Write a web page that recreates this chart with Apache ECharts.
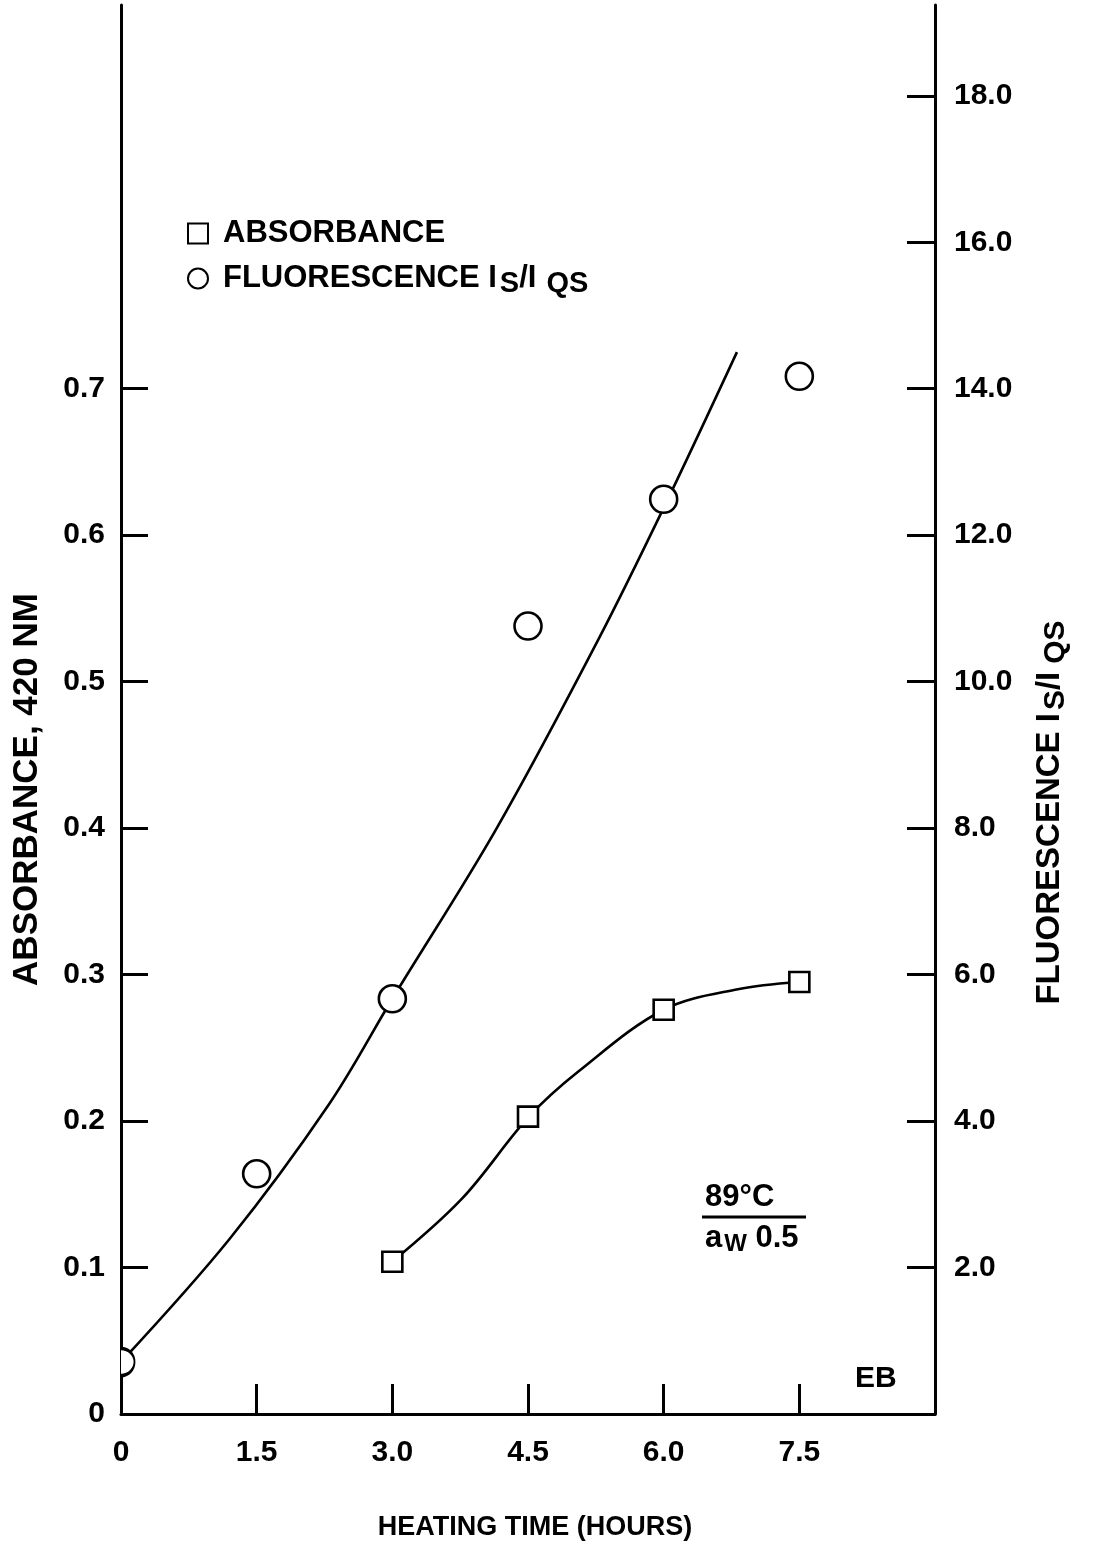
<!DOCTYPE html>
<html>
<head>
<meta charset="utf-8">
<script src="https://cdn.jsdelivr.net/npm/echarts@6/dist/echarts.min.js"></script>
<style>
  html, body { margin: 0; padding: 0; background: #ffffff; }
  #chart { width: 1093px; height: 1566px; }
</style>
</head>
<body>
<div id="chart"></div>
<script>
// Measured points: heating time (h) vs. absorbance at 420 nm and fluorescence Is/Iqs
const hours = [0, 1.5, 3.0, 4.5, 6.0, 7.5];
const fluorescence = [0.71, 3.28, 5.67, 10.76, 12.49, 14.17];
const absorbanceHours = [3.0, 4.5, 6.0, 7.5];
const absorbance = [0.104, 0.203, 0.276, 0.295];

// Hand-fitted trend curves
const fluoCurveHours  = [0, 1.20, 2.30, 3.00, 4.15, 5.28, 6.03, 6.81];
const fluoCurveValues = [0.71, 2.39, 4.23, 5.67, 7.99, 10.58, 12.45, 14.50];
const absCurveHours  = [3.0, 3.77, 4.51, 5.06, 6.00, 6.82, 7.49];
const absCurveValues = [0.104, 0.147, 0.203, 0.234, 0.276, 0.290, 0.295];

// Axis ticks
const xTicks = [0, 1.5, 3.0, 4.5, 6.0, 7.5];
const absTicks = [0, 0.1, 0.2, 0.3, 0.4, 0.5, 0.6, 0.7];
const fluoTicks = [2, 4, 6, 8, 10, 12, 14, 16, 18];

const FONT = '"Liberation Sans", Arial, Helvetica, sans-serif';
const INK = '#000000';

const zip = (xs, ys) => xs.map((x, i) => [x, ys[i]]);

const labelStyle = {
  color: INK, fontFamily: FONT, fontWeight: 'bold', fontSize: 30
};
const axisLine = { show: true, onZero: false, lineStyle: { color: INK, width: 3 } };
const tickLine = { color: INK, width: 3 };

// The point sitting on the left axis shows only its right half
const HALF_RING = 'path://M0,0 A1,1 0 0 1 0,2';
const fluoPoints = zip(hours, fluorescence).map(p => p[0] === 0
  ? { value: p, symbol: HALF_RING, symbolSize: [13.5, 27], symbolOffset: [6.75, 0] }
  : { value: p });

const chart = echarts.init(document.getElementById('chart'), null, { renderer: 'canvas' });

chart.setOption({
  backgroundColor: '#ffffff',
  animation: false,
  grid: { left: 121, right: 158, top: 5, bottom: 152, containLabel: false },
  legend: {
    orient: 'vertical',
    left: 182,
    top: 213,
    itemWidth: 20,
    itemHeight: 20,
    itemGap: 14,
    selectedMode: false,
    data: [
      { name: 'ABSORBANCE', icon: 'rect' },
      { name: 'FLUORESCENCE', icon: 'circle' }
    ],
    formatter: name => name === 'ABSORBANCE'
      ? '{m|ABSORBANCE}'
      : '{m|FLUORESCENCE I}{s|S}{m|/I}{q|QS}',
    textStyle: {
      padding: [0, 0, 0, 10],
      rich: {
        m: { fontSize: 31, fontWeight: 'bold', fontFamily: FONT, color: INK, lineHeight: 40, verticalAlign: 'middle' },
        s: { fontSize: 29, fontWeight: 'bold', fontFamily: FONT, color: INK, lineHeight: 20, verticalAlign: 'bottom', padding: [0, 0, 0, 3] },
        q: { fontSize: 29, fontWeight: 'bold', fontFamily: FONT, color: INK, lineHeight: 20, verticalAlign: 'bottom', padding: [0, 0, 0, 10] }
      }
    }
  },
  xAxis: {
    type: 'value',
    min: 0,
    max: 9,
    axisLine: axisLine,
    axisTick: { show: true, inside: true, length: 30, customValues: xTicks.slice(1), lineStyle: tickLine },
    axisLabel: Object.assign({ customValues: xTicks, margin: 24,
      formatter: v => v === 0 ? '0' : v.toFixed(1) }, labelStyle),
    splitLine: { show: false },
    name: 'HEATING TIME (HOURS)',
    nameLocation: 'middle',
    nameGap: 100,
    nameTextStyle: { color: INK, fontFamily: FONT, fontWeight: 'bold', fontSize: 27, padding: [0, 0, 0, 14] }
  },
  yAxis: [
    {
      type: 'value',
      position: 'left',
      min: 0,
      max: 0.962,
      axisLine: axisLine,
      axisTick: { show: true, inside: true, length: 27, customValues: absTicks.slice(1), lineStyle: tickLine },
      axisLabel: Object.assign({ customValues: absTicks, margin: 16,
        formatter: v => v === 0 ? '0' : v.toFixed(1) }, labelStyle),
      splitLine: { show: false },
      name: 'ABSORBANCE, 420 NM',
      nameLocation: 'middle',
      nameRotate: 90,
      nameGap: 76,
      nameTextStyle: { color: INK, fontFamily: FONT, fontWeight: 'bold', fontSize: 35, padding: [0, 160, 0, 0] }
    },
    {
      type: 'value',
      position: 'right',
      min: 0,
      max: 19.24,
      axisLine: axisLine,
      axisTick: { show: true, inside: true, length: 28, customValues: fluoTicks, lineStyle: tickLine },
      axisLabel: Object.assign({ customValues: fluoTicks, margin: 19,
        formatter: v => v.toFixed(1) }, labelStyle),
      splitLine: { show: false },
      name: '{m|FLUORESCENCE I}{s|S}{m|/I}{q|QS}',
      nameLocation: 'middle',
      nameRotate: 90,
      nameGap: 94,
      nameTextStyle: {
        padding: [0, 206, 0, 0],
        rich: {
          m: { fontSize: 33, fontWeight: 'bold', fontFamily: FONT, color: INK, lineHeight: 42, verticalAlign: 'middle' },
          s: { fontSize: 30, fontWeight: 'bold', fontFamily: FONT, color: INK, lineHeight: 22, verticalAlign: 'bottom', padding: [0, 0, 0, 3] },
          q: { fontSize: 30, fontWeight: 'bold', fontFamily: FONT, color: INK, lineHeight: 22, verticalAlign: 'bottom', padding: [0, 0, 0, 8] }
        }
      }
    }
  ],
  series: [
    {
      name: 'absorbance-fit',
      type: 'line',
      yAxisIndex: 0,
      data: zip(absCurveHours, absCurveValues),
      smooth: 0.35,
      showSymbol: false,
      symbol: 'none',
      lineStyle: { color: INK, width: 2.6 },
      z: 2,
      silent: true
    },
    {
      name: 'fluorescence-fit',
      type: 'line',
      yAxisIndex: 1,
      data: zip(fluoCurveHours, fluoCurveValues),
      smooth: 0.35,
      showSymbol: false,
      symbol: 'none',
      lineStyle: { color: INK, width: 2.6 },
      z: 2,
      silent: true
    },
    {
      name: 'ABSORBANCE',
      type: 'scatter',
      yAxisIndex: 0,
      data: zip(absorbanceHours, absorbance),
      symbol: 'rect',
      symbolSize: 20,
      itemStyle: { color: '#ffffff', borderColor: INK, borderWidth: 2.6, opacity: 1 },
      z: 5
    },
    {
      name: 'FLUORESCENCE',
      type: 'scatter',
      yAxisIndex: 1,
      data: fluoPoints,
      symbol: 'circle',
      symbolSize: 27,
      itemStyle: { color: '#ffffff', borderColor: INK, borderWidth: 2.6, opacity: 1 },
      z: 5
    }
  ],
  graphic: [
    {
      type: 'text', left: 705, top: 1182, z: 10,
      style: { text: '89°C', fill: INK, font: 'bold 31px ' + FONT }
    },
    {
      type: 'line', z: 10,
      shape: { x1: 702, y1: 1217, x2: 806, y2: 1217 },
      style: { stroke: INK, lineWidth: 3 }
    },
    {
      type: 'text', left: 705, top: 1223, z: 10,
      style: {
        text: '{a|a}{w|W}{a| 0.5}',
        fill: INK,
        rich: {
          a: { fontSize: 31, fontWeight: 'bold', fontFamily: FONT, fill: INK, lineHeight: 36, verticalAlign: 'middle' },
          w: { fontSize: 24, fontWeight: 'bold', fontFamily: FONT, fill: INK, lineHeight: 22, verticalAlign: 'bottom', padding: [0, 0, 0, 2] }
        }
      }
    },
    {
      type: 'text', left: 855, top: 1364, z: 10,
      style: { text: 'EB', fill: INK, font: 'bold 30px ' + FONT }
    }
  ]
});
</script>
</body>
</html>
